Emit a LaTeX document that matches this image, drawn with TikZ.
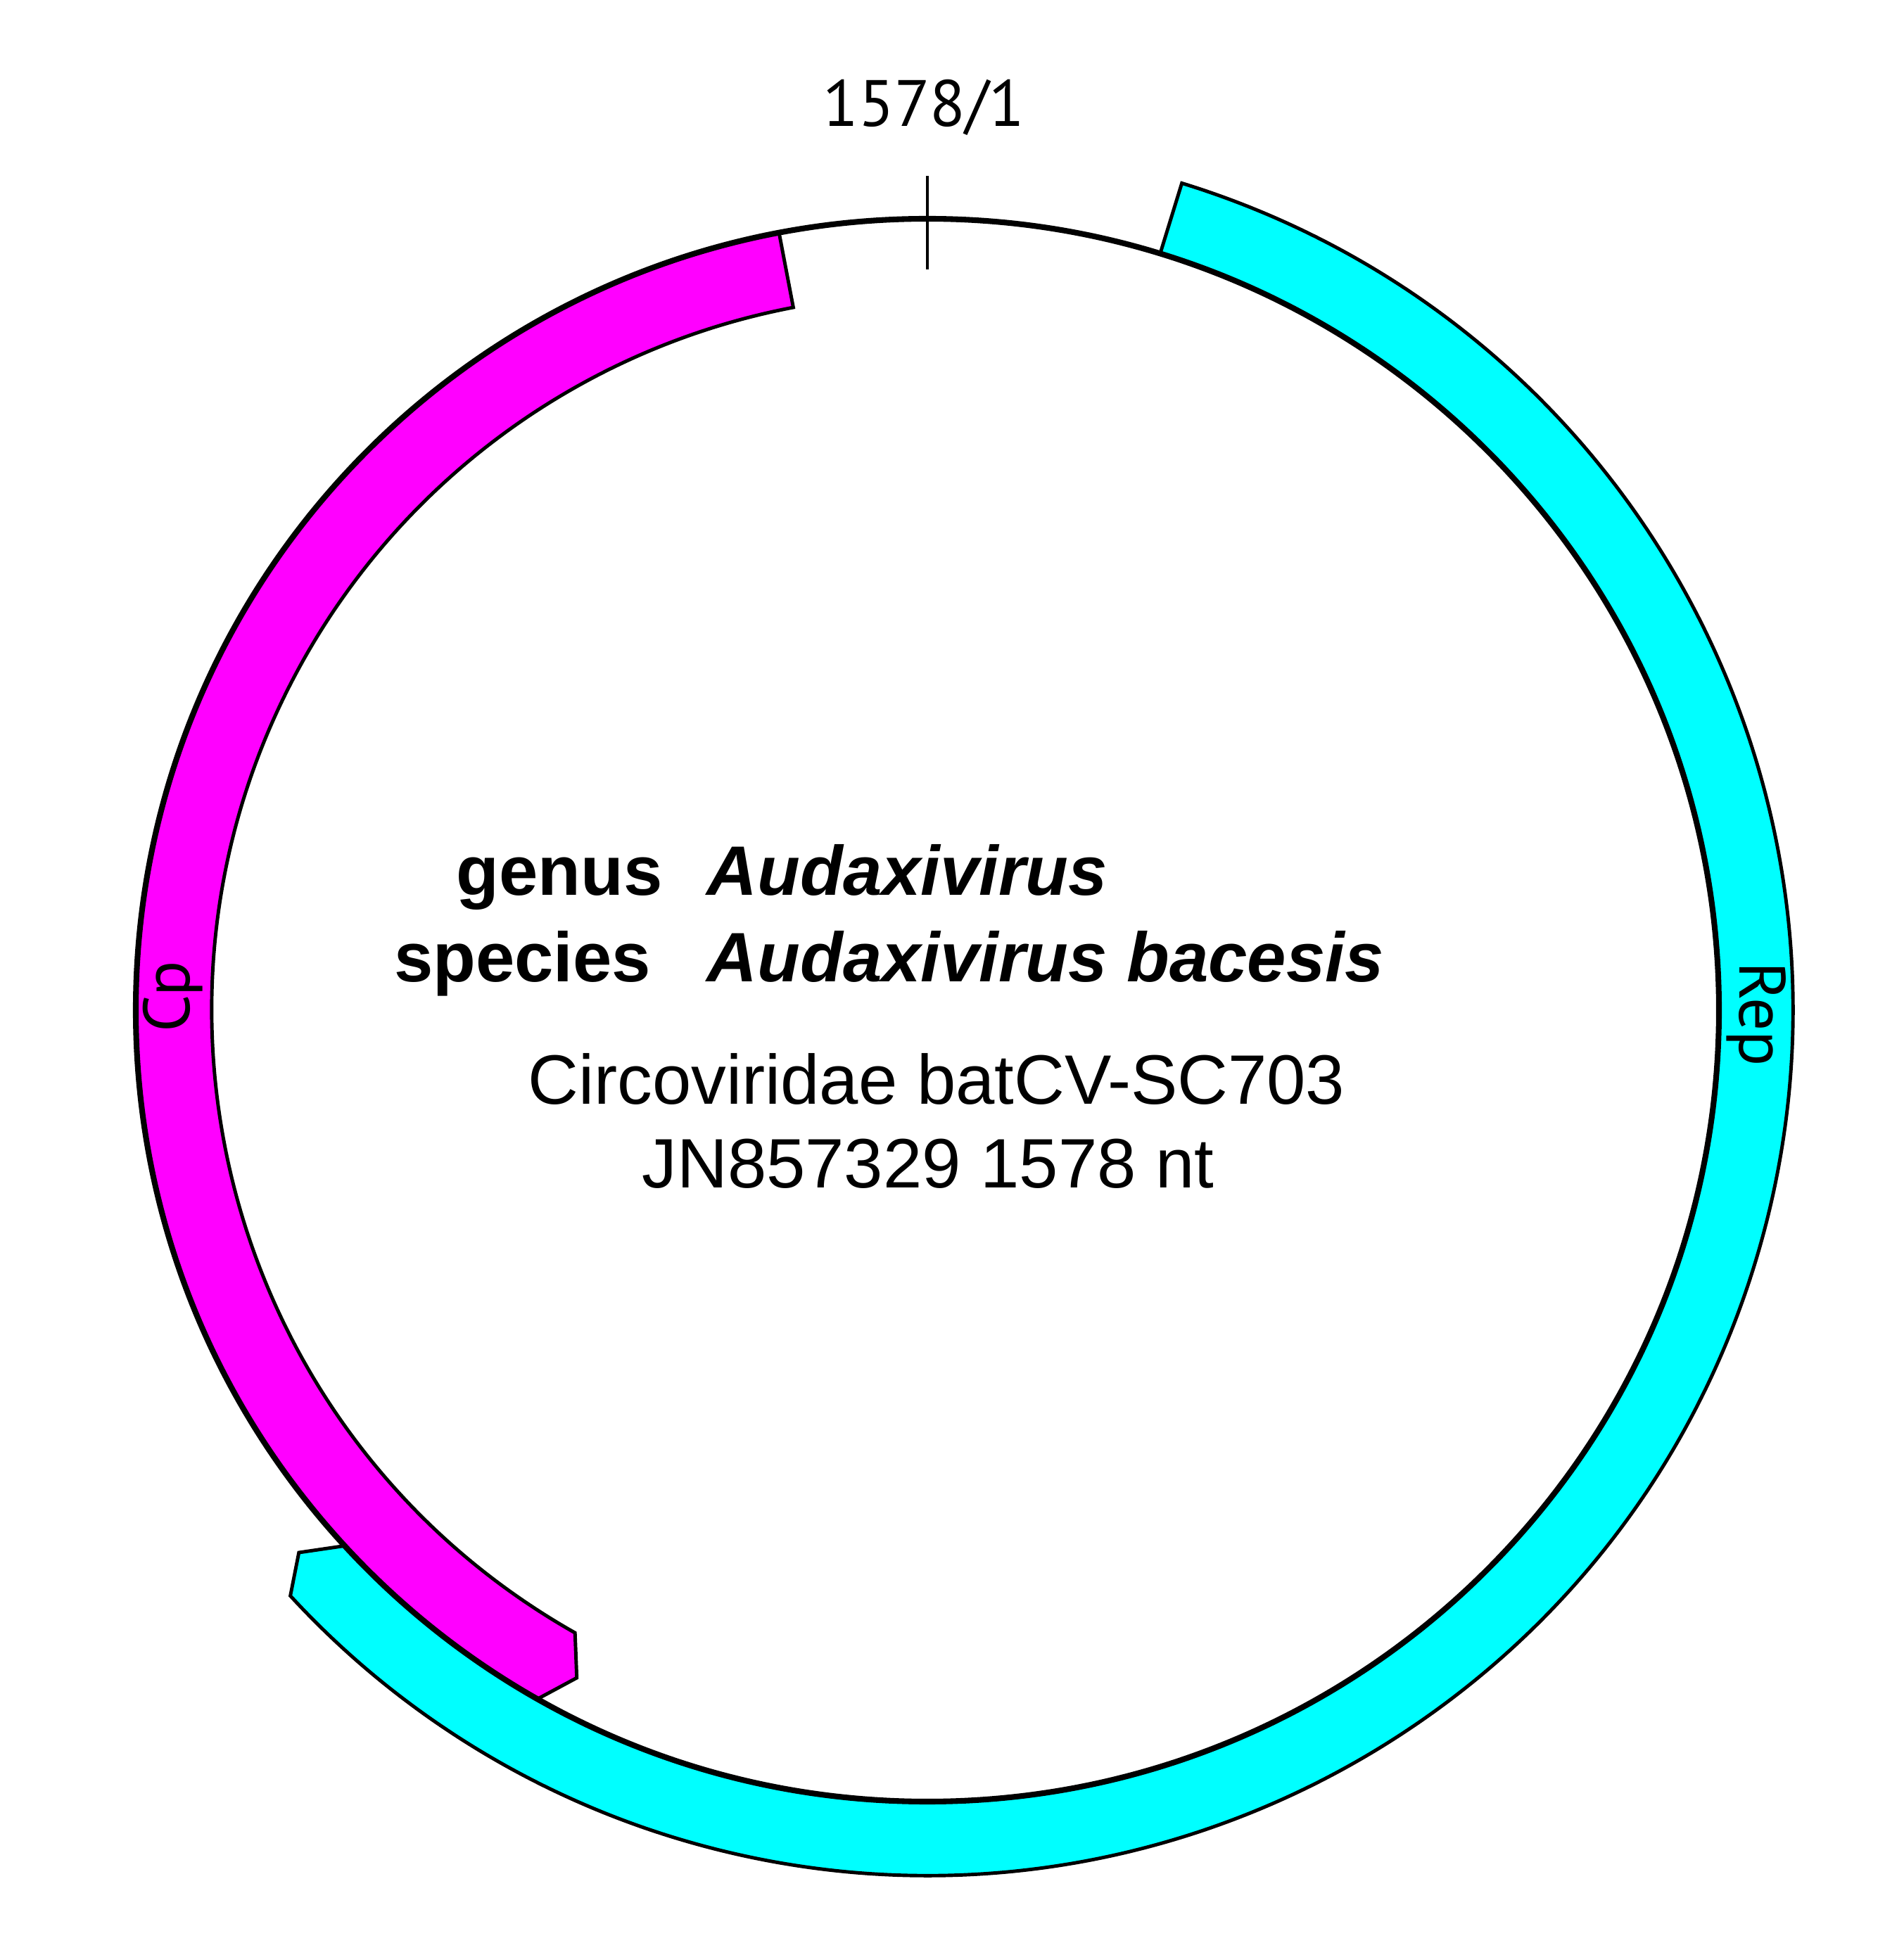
\documentclass[tikz,border=0pt]{standalone}
\usepackage{fontspec}
\setmainfont{Liberation Sans}
\newfontfamily\maplabelfont{PT Sans}
\definecolor{cpcolor}{rgb}{1,0,1}
\definecolor{repcolor}{rgb}{0,1,1}
\tikzset{
  gene/.style={draw=black, line width=1.4pt},
  genome/.style={line width=2.3pt},
  maplabel/.style={font=\maplabelfont\fontsize{26.5}{31}\selectfont, inner sep=0pt},
  taxon/.style={font=\bfseries\fontsize{28.3}{34}\selectfont, inner sep=0pt},
  taxname/.style={font=\bfseries\itshape\fontsize{28.3}{34}\selectfont, inner sep=0pt},
  isolate/.style={font=\fontsize{28.3}{34}\selectfont, inner sep=0pt}
}
\begin{document}
\begin{tikzpicture}
    \useasboundingbox (-13.18,-13.36) rectangle (13.88,14.36);
    % genes
    \filldraw [gene, fill=cpcolor] (100.8:11.25) arc [start angle=100.8, end angle=240.5, radius=11.25]
        -- (242.3:10.72) -- (240.5:10.17) arc [start angle=240.5, end angle=100.8, radius=10.17] -- cycle;
    \filldraw [gene, fill=repcolor] (72.9:12.30) arc [start angle=72.9, end angle=-137.4, radius=12.30]
        -- (-139.2:11.80) -- (-137.4:11.25) arc [start angle=-137.4, end angle=72.9, radius=11.25] -- cycle;
    % genome
    \draw [genome] (0,0) circle [radius=11.25];
    \coordinate (tickin) at (90:10.53);
    \coordinate (tickout) at (90:11.86);
    \draw [line width=1.1pt] (tickin) -- (tickout);
    \node [maplabel, anchor=base] (origin) at (-0.05,12.56) {1578/1};
    \node [maplabel, anchor=base, rotate=90] (cp) at (-10.48,0.19) {Cp};
    \node [maplabel, anchor=base, rotate=-90] (rep) at (11.54,-0.06) {Rep};
    % names
    \node [taxon, anchor=base east] (genus) at (-3.76,1.63) {genus};
    \node [taxname, anchor=base west] (genusname) at (-3.14,1.63) {Audaxivirus};
    \node [taxon, anchor=base east] (species) at (-3.92,0.40) {species};
    \node [taxname, anchor=base west] (speciesname) at (-3.14,0.40) {Audaxivirus bacesis};
    \node [isolate, anchor=base] (virus) at (0.13,-1.34) {Circoviridae batCV-SC703};
    \node [isolate, anchor=base] (accession) at (0.01,-2.52) {JN857329 1578 nt};
\end{tikzpicture}
\end{document}
